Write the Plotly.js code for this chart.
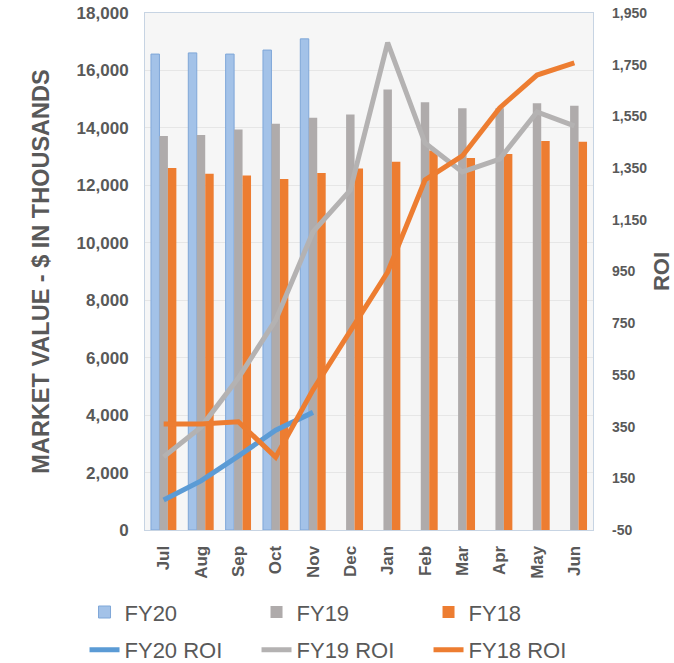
<!DOCTYPE html>
<html>
<head>
<meta charset="utf-8">
<script src="https://cdn.plot.ly/plotly-3.0.1.min.js"></script>
<style>html,body{margin:0;padding:0;background:#fff;}#chart{width:674px;height:663px;}</style>
</head>
<body>
<div id="chart"></div>
<script>
const months = ['Jul','Aug','Sep','Oct','Nov','Dec','Jan','Feb','Mar','Apr','May','Jun'];
const fy20 = [16570, 16610, 16570, 16710, 17100, null, null, null, null, null, null, null];
const fy19 = [13720, 13750, 13940, 14140, 14350, 14470, 15340, 14890, 14680, 14680, 14860, 14770];
const fy18 = [12600, 12400, 12340, 12220, 12430, 12590, 12820, 13210, 12950, 13090, 13540, 13520];
const fy20Roi = [66, 140, 236, 336, 405, null, null, null, null, null, null, null];
const fy19Roi = [233, 348, 538, 762, 1103, 1265, 1835, 1447, 1335, 1385, 1567, 1513];
const fy18Roi = [360, 360, 369, 232, 492, 724, 948, 1304, 1397, 1583, 1710, 1757];
const roiTickVals = [-50, 150, 350, 550, 750, 950, 1150, 1350, 1550, 1750, 1950];
const roiTickText = ['-50', '150', '350', '550', '750', '950', '1,150', '1,350', '1,550', '1,750', '1,950'];

const FONT = 'Liberation Sans, Arial, sans-serif';
const GREY = '#595959';

const traces = [
  {type:'bar', name:'FY20', x:months, y:fy20, legend:'legend',
   marker:{color:'#a3c2e8', line:{color:'#7fa7d8', width:1}}},
  {type:'bar', name:'FY19', x:months, y:fy19, legend:'legend',
   marker:{color:'#afabab', line:{width:0}}},
  {type:'bar', name:'FY18', x:months, y:fy18, legend:'legend',
   marker:{color:'#ed7d31', line:{width:0}}},
  {type:'scatter', mode:'lines', name:'FY20 ROI', x:months, y:fy20Roi, yaxis:'y2', legend:'legend2',
   line:{color:'#5b9bd5', width:5}},
  {type:'scatter', mode:'lines', name:'FY19 ROI', x:months, y:fy19Roi, yaxis:'y2', legend:'legend2',
   line:{color:'#b4b2b2', width:5}},
  {type:'scatter', mode:'lines', name:'FY18 ROI', x:months, y:fy18Roi, yaxis:'y2', legend:'legend2',
   line:{color:'#ed7d31', width:5}}
];

const legendCommon = {
  orientation:'h', xanchor:'left', yanchor:'middle', x:-0.135,
  font:{family:FONT, size:22, color:GREY}, itemwidth:30,
  entrywidth:127, entrywidthmode:'pixels', bgcolor:'rgba(0,0,0,0)', traceorder:'normal'
};

const layout = {
  width:674, height:663,
  margin:{l:145, r:81, t:13, b:133, autoexpand:false},
  paper_bgcolor:'#ffffff',
  plot_bgcolor:'#f6f6f6',
  barmode:'group', bargap:0.32, bargroupgap:0,
  font:{family:FONT, color:GREY},
  xaxis:{
    type:'category', tickangle:-90, ticks:'', ticklabelstandoff:8,
    tickfont:{family:FONT, size:17, color:GREY, weight:'bold'},
    showline:true, mirror:true, linecolor:'#c7d4e3', linewidth:1, showgrid:false
  },
  yaxis:{
    range:[0,18000], dtick:2000, tick0:0, tickformat:',d', ticks:'', ticklabelstandoff:12,
    tickfont:{family:FONT, size:17, color:GREY, weight:'bold'},
    showline:true, mirror:true, linecolor:'#c7d4e3', linewidth:1,
    gridcolor:'#e6e6e6', zeroline:false,
    title:{text:'MARKET VALUE - $ IN THOUSANDS', font:{family:FONT, size:23.5, color:GREY, weight:'bold'}, standoff:20}
  },
  yaxis2:{
    overlaying:'y', side:'right', range:[-50,1950],
    tickmode:'array', tickvals:roiTickVals, ticktext:roiTickText, ticks:'', ticklabelstandoff:18,
    tickfont:{family:FONT, size:14, color:GREY, weight:'bold'},
    showgrid:false, zeroline:false, showline:false,
    title:{text:'ROI', font:{family:FONT, size:22, color:GREY, weight:'bold'}, standoff:8}
  },
  legend:Object.assign({}, legendCommon, {y:-0.159}),
  legend2:Object.assign({}, legendCommon, {y:-0.232}),
  showlegend:true
};

Plotly.newPlot('chart', traces, layout, {displayModeBar:false, staticPlot:true});
</script>
</body>
</html>
